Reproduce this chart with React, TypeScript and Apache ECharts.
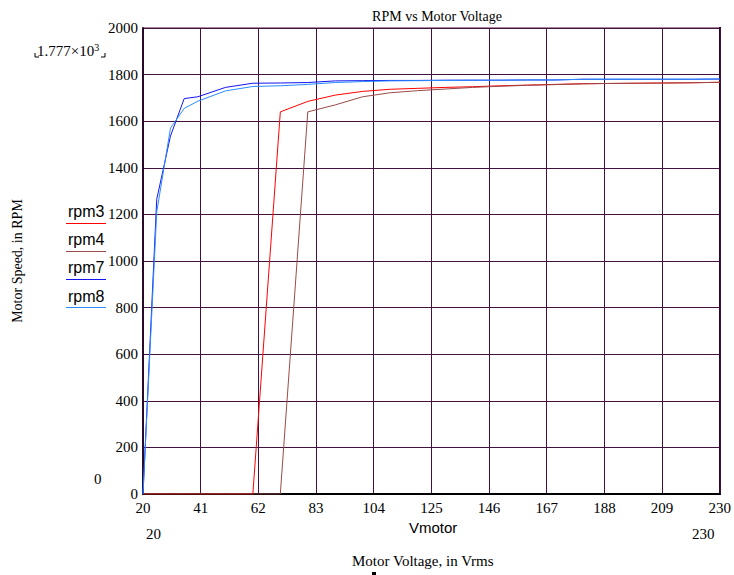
import React, { useEffect, useRef } from 'react';
import * as echarts from 'echarts';

const voltages = [20, 25, 30, 35, 40, 50, 60, 70, 80, 90, 100, 110, 120, 130, 140, 150, 160, 170, 180, 190, 200, 210, 220, 230];
const rpm3 = [0, 0, 0, 0, 0, 0, 0, 1640, 1685, 1712, 1728, 1737, 1741, 1745, 1748, 1752, 1755, 1758, 1761, 1762, 1763, 1764, 1765, 1767];
const rpm4 = [0, 0, 0, 0, 0, 0, 0, 0, 1640, 1670, 1705, 1722, 1731, 1738, 1745, 1750, 1754, 1757, 1760, 1762, 1763, 1764, 1765, 1767];
const rpm7 = [0, 1265, 1536, 1697, 1705, 1745, 1763, 1764, 1766, 1773, 1774, 1775, 1775, 1776, 1776, 1776, 1777, 1777, 1780, 1780, 1780, 1780, 1780, 1781];
const rpm8 = [0, 1210, 1570, 1655, 1686, 1730, 1749, 1752, 1758, 1766, 1770, 1773, 1774, 1775, 1776, 1776, 1777, 1777, 1780, 1780, 1780, 1780, 1780, 1781];

const seriesNames = ['rpm3', 'rpm4', 'rpm7', 'rpm8'];
const seriesValues = [rpm3, rpm4, rpm7, rpm8];
const seriesColors = ['#ff0000', '#9a4a48', '#1414f0', '#2a8cff'];

const xMin = 20;
const xMax = 230;
const xStep = 21;
const yMax = 2000;
const yStep = 200;

const SERIF = '"Liberation Serif", "Times New Roman", serif';
const SANS = '"Liberation Sans", Arial, sans-serif';
const GRID = '#43103f';

export default function App() {
  const ref = useRef<HTMLDivElement>(null);
  useEffect(() => {
    if (!ref.current) return;
    const chart = echarts.init(ref.current, undefined, { renderer: 'svg' });
    const legendTextCenter = [212, 240, 268, 297];
    const legendLineY = [223.5, 251.5, 279.5, 307.5];
    const legendGraphics: any[] = [];
    seriesNames.forEach((n, i) => {
      legendGraphics.push({
        type: 'text', left: 68, top: legendTextCenter[i] - 9,
        style: { text: n, font: `16px ${SANS}`, fill: '#000' },
      });
      legendGraphics.push({
        type: 'line',
        shape: { x1: 66, y1: legendLineY[i], x2: 106, y2: legendLineY[i] },
        style: { stroke: seriesColors[i], lineWidth: 1 },
      });
    });
    chart.setOption({
      animation: false,
      backgroundColor: '#fff',
      title: {
        text: 'RPM vs Motor Voltage',
        left: 432, top: 4, textAlign: 'center',
        textStyle: { fontFamily: SERIF, fontSize: 14, fontWeight: 'normal', color: '#000' },
      },
      grid: {
        left: 143, top: 28, right: 14, bottom: 81,
        show: true, borderColor: GRID, borderWidth: 1, backgroundColor: 'transparent',
      },
      xAxis: {
        type: 'value',
        min: 0, max: xMax - xMin, interval: xStep,
        axisLine: { show: true, onZero: false, lineStyle: { color: '#000', width: 2 } },
        axisTick: { show: false },
        splitLine: { show: true, lineStyle: { color: GRID, width: 1 } },
        axisLabel: {
          formatter: (v: number) => String(v + xMin),
          fontFamily: SERIF, fontSize: 15, color: '#000', margin: 6,
        },
      },
      yAxis: {
        type: 'value',
        min: 0, max: yMax, interval: yStep,
        name: 'Motor Speed, in RPM',
        nameLocation: 'middle', nameGap: 119, nameRotate: 90,
        nameTextStyle: { fontFamily: SERIF, fontSize: 14, color: '#000' },
        axisLine: { show: true, lineStyle: { color: '#2a0a2a', width: 2 } },
        axisTick: { show: false },
        splitLine: { show: true, lineStyle: { color: GRID, width: 1 } },
        axisLabel: {
          formatter: (v: number) => String(v),
          fontFamily: SERIF, fontSize: 15, color: '#000', margin: 5,
        },
      },
      series: seriesNames.map((n, i) => ({
        name: n,
        type: 'line',
        showSymbol: false,
        symbol: 'none',
        data: voltages.map((v, j) => [v - xMin, seriesValues[i][j]]),
        lineStyle: { color: seriesColors[i], width: 1 },
        itemStyle: { color: seriesColors[i] },
        z: 3 + i,
      })),
      graphic: [
        ...legendGraphics,
        {
          type: 'text', left: 37, top: 42,
          style: {
            text: '{m|1.777×10}{s|3}',
            rich: {
              m: { font: `15px ${SERIF}`, fill: '#000' },
              s: { font: `10px ${SERIF}`, fill: '#000', verticalAlign: 'top', padding: [0, 0, 8, 0] },
            },
          },
        },
        { type: 'polyline', shape: { points: [[35, 53], [35, 57], [39, 57]] }, style: { stroke: '#000', lineWidth: 1, fill: 'none' } },
        { type: 'polyline', shape: { points: [[105, 53], [105, 57], [101, 57]] }, style: { stroke: '#000', lineWidth: 1, fill: 'none' } },
        { type: 'line', shape: { x1: 720, y1: 27, x2: 720, y2: 495 }, style: { stroke: '#2a0a2a', lineWidth: 2 } },
        { type: 'text', left: 94, top: 471, style: { text: '0', font: `15px ${SERIF}`, fill: '#000' } },
        { type: 'text', left: 146, top: 526, style: { text: '20', font: `15px ${SERIF}`, fill: '#000' } },
        { type: 'text', left: 692, top: 526, style: { text: '230', font: `15px ${SERIF}`, fill: '#000' } },
        { type: 'text', left: 409, top: 520, style: { text: 'Vmotor', font: `15px ${SANS}`, fill: '#000' } },
        { type: 'text', left: 352, top: 553, style: { text: 'Motor Voltage, in Vrms', font: `15px ${SERIF}`, fill: '#000' } },
        { type: 'rect', shape: { x: 372, y: 572, width: 4, height: 3 }, style: { fill: '#000' } },
      ],
    });
    return () => chart.dispose();
  }, []);
  return <div ref={ref} style={{ position: 'fixed', left: 0, top: 0, width: 734, height: 575 }} />;
}
